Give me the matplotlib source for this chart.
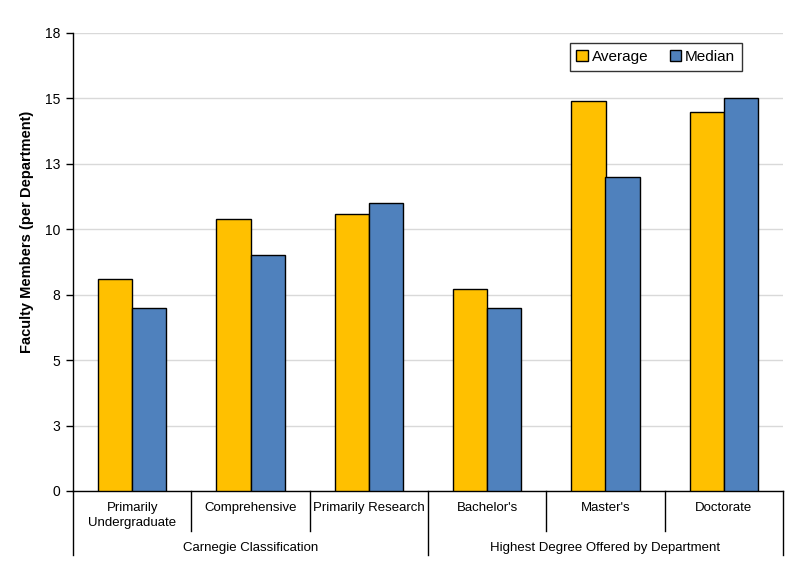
import matplotlib
matplotlib.use("Agg")
import matplotlib.pyplot as plt
import matplotlib.transforms as mtransforms

categories = ["Primarily\nUndergraduate", "Comprehensive", "Primarily Research",
              "Bachelor's", "Master's", "Doctorate"]
groups = ["Carnegie Classification", "Highest Degree Offered by Department"]
group_sizes = [3, 3]
average = [8.1, 10.4, 10.6, 7.7, 14.9, 14.5]
median = [7.0, 9.0, 11.0, 7.0, 12.0, 15.0]
yticks = [0, 2.5, 5, 7.5, 10, 12.5, 15, 17.5]
ytick_labels = ["0", "3", "5", "8", "10", "13", "15", "18"]

plt.rcParams['font.family'] = ['Liberation Sans', 'DejaVu Sans']

fig = plt.figure(figsize=(7.99, 5.85), dpi=100)
ax = fig.add_axes([73/799, 1-491/585, 710/799, 458/585])

x = list(range(len(categories)))
w = 0.29
ax.bar([i - w/2 for i in x], average, width=w, color="#FFC000", edgecolor="black",
       linewidth=1.0, label="Average", zorder=3)
ax.bar([i + w/2 for i in x], median, width=w, color="#4F81BD", edgecolor="black",
       linewidth=1.0, label="Median", zorder=3)

ax.set_xlim(-0.5, len(categories) - 0.5)
ax.set_ylim(0, 17.5)
ax.set_yticks(yticks)
ax.set_yticklabels(ytick_labels, fontsize=10)
ax.yaxis.grid(True, color="#D9D9D9", linewidth=1.0, zorder=0)
ax.set_axisbelow(True)
ax.tick_params(axis='y', direction='out', length=5, width=1, pad=4)
ax.set_xticks([])
for s in ["top", "right"]:
    ax.spines[s].set_visible(False)
ax.spines["left"].set_linewidth(1.0)
ax.spines["bottom"].set_linewidth(1.0)

ax.set_ylabel("Faculty Members (per Department)", fontsize=10.5, fontweight="bold")
ax.yaxis.set_label_coords(-39/710, (491-232)/458)

trans = mtransforms.blended_transform_factory(ax.transData, ax.transAxes)
h = 458.0
y_cat = -40 / h
y_grp = -64 / h
for b in range(len(categories) + 1):
    xb = b - 0.5
    is_group = b in (0, 3, 6)
    ax.plot([xb, xb], [0, y_grp if is_group else y_cat], transform=trans,
            color="black", linewidth=1.0, clip_on=False)
for i, c in enumerate(categories):
    ax.text(i, -11 / h, c, transform=trans, ha="center", va="top", fontsize=9.5,
            linespacing=1.35)
start = 0
for g, n in zip(groups, group_sizes):
    center = start + (n - 1) / 2
    ax.text(center, -57 / h, g, transform=trans, ha="center", va="center", fontsize=9.5)
    start += n

leg = ax.legend(loc="upper right", bbox_to_anchor=(742/799, 1 - 43/585), bbox_transform=fig.transFigure,
                ncol=2, fontsize=11, frameon=True, fancybox=False, edgecolor="black",
                handlelength=0.75, handleheight=0.75, handletextpad=0.25, columnspacing=1.4,
                borderpad=0.45, borderaxespad=0)
leg.get_frame().set_linewidth(1.0)

fig.savefig("out.png", dpi=100)
